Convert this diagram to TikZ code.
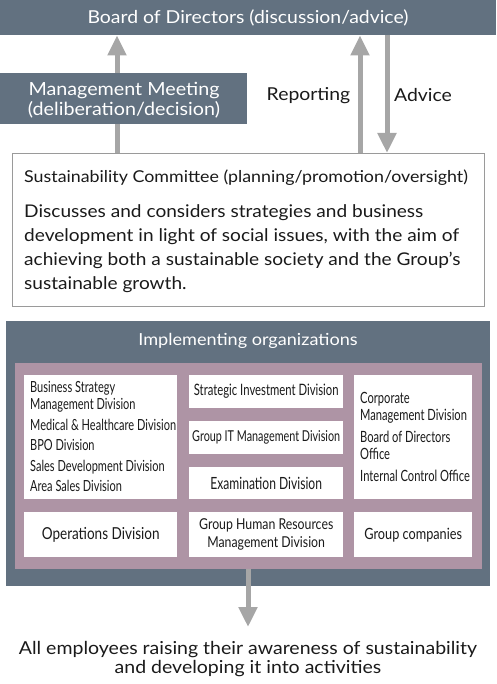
\documentclass[tikz,border=0pt]{standalone}
\usepackage{fontspec}
\setmainfont{Lato}[FakeStretch=1.09]
\newfontfamily\condf[FakeStretch=0.72]{Lato}
\newfontfamily\condb[FakeStretch=0.82]{Lato}
\usetikzlibrary{arrows.meta}
\definecolor{slate}{HTML}{627180}
\definecolor{mauve}{HTML}{AE94A5}
\definecolor{arrgray}{HTML}{A6A6A6}
\definecolor{boxline}{HTML}{9A9A9A}
\definecolor{ink}{HTML}{1A1A1A}
\begin{document}
\begin{tikzpicture}[x=1pt,y=-1pt,
  darkbox/.style={fill=slate, draw=none, inner sep=0pt, text=white, anchor=north west},
  whitebox/.style={fill=white, draw=none, inner sep=0pt, anchor=north west, text=ink},
  flowline/.style={draw=arrgray, line width=5pt},
  flow/.style={flowline, -{Triangle[width=18pt,length=20pt]}},
  bigtxt/.style={font=\fontsize{17.8}{20}\selectfont},
  divtxt/.style={align=left, inner sep=0pt, anchor=north west, text=ink},
  divc/.style={font=\condb\fontsize{16.5}{18}\selectfont, align=center, text=ink}
]
\useasboundingbox (0,0) rectangle (496,684);

% top
\node[darkbox, minimum width=496pt, minimum height=35pt] (board) at (0,0) {};
\node[text=white, bigtxt] (boardt) at (248,17.5) {Board of Directors (discussion/advice)};
\node[whitebox, draw=boxline, line width=0.8pt, minimum width=472pt, minimum height=153pt] (sust) at (12,153) {};

\draw[flowline] ([xshift=105pt]sust.north west) -- (117,110);
\draw[flow] (117,110) -- ([xshift=117pt]board.south west);
\node[darkbox, minimum width=247pt, minimum height=51pt] (mm) at (0,73) {};
\node[text=white, align=center, font=\fontsize{18.1}{20}\selectfont] (mmt) at (124,100) {Management Meeting\\(deliberation/decision)};

\draw[flow] ([xshift=348pt]sust.north west) -- ([xshift=360pt]board.south west);
\draw[flow] ([xshift=387pt]board.south west) -- ([xshift=375pt]sust.north west);
\node[bigtxt, text=ink] (rep) at (308.5,95.5) {Reporting};
\node[bigtxt, text=ink] (adv) at (423,95.5) {Advice};

\node[anchor=west, inner sep=0pt, text=ink, font=\fontsize{16.35}{18}\selectfont] (sustt) at (24,178) {Sustainability Committee (planning/promotion/oversight)};
\node[anchor=north west, inner sep=0pt, text=ink, align=left, font=\fontsize{17.5}{24}\selectfont] (sustb) at (24,204) {Discusses and considers strategies and business\\development in light of social issues, with the aim of\\achieving both a sustainable society and the Group’s\\sustainable growth.};

% implementing
\node[darkbox, minimum width=484pt, minimum height=265pt] (impl) at (6,321) {};
\node[text=white, font=\fontsize{16.6}{20}\selectfont] (implt) at (248,341) {Implementing organizations};
\node[fill=mauve, inner sep=0pt, anchor=north west, minimum width=467pt, minimum height=206pt] (pink) at (15,363) {};

\node[whitebox, minimum width=153pt, minimum height=124pt] (c1) at (24,375) {};
\node[whitebox, minimum width=154pt, minimum height=33pt] (c2a) at (189,375) {};
\node[whitebox, minimum width=154pt, minimum height=33pt] (c2b) at (189,421) {};
\node[whitebox, minimum width=154pt, minimum height=32pt] (c2c) at (189,467) {};
\node[whitebox, minimum width=118pt, minimum height=124pt] (c3) at (354,375) {};
\node[whitebox, minimum width=153pt, minimum height=45pt] (b1) at (24,512) {};
\node[whitebox, minimum width=154pt, minimum height=45pt] (b2) at (189,512) {};
\node[whitebox, minimum width=118pt, minimum height=45pt] (b3) at (354,512) {};

\node[divtxt, font=\condf\fontsize{15.3}{17}\selectfont] (c1t) at (30,381.5) {Business Strategy\\Management Division\\[3.5pt]Medical \& Healthcare Division\\[3.5pt]BPO Division\\[3.5pt]Sales Development Division\\[3.5pt]Area Sales Division};
\node[divtxt, font=\condf\fontsize{15.5}{17.5}\selectfont] (c3t) at (360,392) {Corporate\\Management Division\\[4pt]Board of Directors\\Office\\[4pt]Internal Control Office};
\node[divc, font=\condf\fontsize{15.7}{17}\selectfont] (c2at) at (c2a.center) {Strategic Investment Division};
\node[divc, font=\condf\fontsize{15}{17}\selectfont] (c2bt) at (c2b.center) {Group IT Management Division};
\node[divc, font=\condf\fontsize{16.8}{17}\selectfont] (c2ct) at (c2c.center) {Examination Division};
\node[divc] (b1t) at (b1.center) {Operations Division};
\node[divc, font=\condb\fontsize{15}{18}\selectfont] (b2t) at (b2.center) {Group Human Resources\\Management Division};
\node[divc, font=\condb\fontsize{15.5}{18}\selectfont] (b3t) at (b3.center) {Group companies};

% bottom
\coordinate (tipb) at (248,627);
\draw[flow] ([xshift=233pt]pink.south west) -- (tipb);
\node[align=center, text=ink, font=\fontsize{17.9}{19}\selectfont] (goal) at (248,659) {All employees raising their awareness of sustainability\\and developing it into activities};
\end{tikzpicture}
\end{document}
